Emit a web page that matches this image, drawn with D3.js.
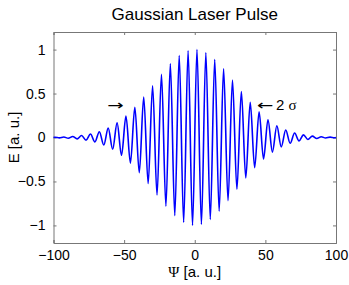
<!DOCTYPE html>
<html>
<head>
<meta charset="utf-8">
<script src="https://cdn.jsdelivr.net/npm/d3@7"></script>
<style>
  body { margin: 0; background: #fff; }
  svg { display: block; font-family: "Liberation Sans", Arial, sans-serif; }
</style>
</head>
<body>
<svg id="render" width="349" height="285"></svg>
<script>
// extrema of the pulse (psi, E)
let psiPts = [-100, -98.96, -95.819, -92.677, -89.535, -86.394, -83.252, -80.111, -76.969,
  -73.827, -70.686, -67.544, -64.403, -61.261, -58.119, -54.978, -51.836, -48.695, -45.553,
  -42.412, -39.27, -36.128, -32.987, -29.845, -26.704, -23.562, -20.42, -17.279, -14.137,
  -10.996, -7.854, -4.712, -1.571,
  1.571, 4.712, 7.854, 10.996, 14.137, 17.279, 20.42, 23.562, 26.704, 29.845, 32.987,
  36.128, 39.27, 42.412, 45.553, 48.695, 51.836, 54.978, 58.119, 61.261, 64.403, 67.544,
  70.686, 73.827, 76.969, 80.111, 83.252, 86.394, 89.535, 92.677, 95.819, 98.96, 100];
let ePts = [0, 0.003, -0.004, 0.006, -0.009, 0.012, -0.016, 0.022, -0.030,
  0.039, -0.051, 0.066, -0.085, 0.107, -0.134, 0.166, -0.202, 0.244, -0.291,
  0.343, -0.400, 0.460, -0.524, 0.589, -0.654, 0.719, -0.780, 0.837, -0.888,
  0.931, -0.964, 0.987, -0.999,
  0.999, -0.987, 0.964, -0.931, 0.888, -0.837, 0.780, -0.719, 0.654, -0.589, 0.524,
  -0.460, 0.400, -0.343, 0.291, -0.244, 0.202, -0.166, 0.134, -0.107, 0.085, -0.066,
  0.051, -0.039, 0.030, -0.022, 0.016, -0.012, 0.009, -0.006, 0.004, -0.003, 0];

let xTicks = [-100, -50, 0, 50, 100];
let yTicks = [-1, -0.5, 0, 0.5, 1];
let title = 'Gaussian Laser Pulse';

let box = {left: 53.5, right: 336, top: 32, bottom: 243};
let svg = d3.select('#render');

let x = d3.scaleLinear().domain([-100, 100]).range([box.left, box.right]);
let y = d3.scaleLinear().domain([-1.2, 1.2]).range([box.bottom, box.top]);

let axisCol = '#777';
let tickLen = 3;

// axes with inward ticks on all four sides
let gx = svg.append('g').attr('transform', `translate(0,${box.bottom})`)
  .call(d3.axisBottom(x).tickValues(xTicks).tickSize(-tickLen).tickPadding(7).tickFormat(d3.format('d')));
let gxt = svg.append('g').attr('transform', `translate(0,${box.top})`)
  .call(d3.axisTop(x).tickValues(xTicks).tickSize(-tickLen).tickFormat(''));
let gy = svg.append('g').attr('transform', `translate(${box.left},0)`)
  .call(d3.axisLeft(y).tickValues(yTicks).tickSize(-tickLen).tickPadding(8).tickFormat(d3.format('')));
let gyr = svg.append('g').attr('transform', `translate(${box.right},0)`)
  .call(d3.axisRight(y).tickValues(yTicks).tickSize(-tickLen).tickFormat(''));

[gx, gxt, gy, gyr].forEach(g => {
  g.select('.domain').attr('stroke', axisCol);
  g.selectAll('.tick line').attr('stroke', axisCol);
  g.selectAll('text').attr('fill', '#000').style('font-size', '14px')
    .style('font-family', '"Liberation Sans", Arial, sans-serif');
});

let pts = psiPts.map((p, i) => ({psi: p, e: ePts[i]}));
let line = d3.line().x(d => x(d.psi)).y(d => y(d.e)).curve(d3.curveMonotoneX);

svg.append('path')
  .datum(pts)
  .attr('d', line)
  .style('fill', 'none')
  .style('stroke', '#0000ff')
  .style('stroke-width', 1.6);

// title and labels
svg.append('text')
  .attr('x', (box.left + box.right) / 2).attr('y', 20)
  .attr('text-anchor', 'middle').style('font-size', '17px')
  .text(title);

let xl = svg.append('text')
  .attr('x', (box.left + box.right) / 2).attr('y', 277)
  .attr('text-anchor', 'middle').style('font-size', '15px');
xl.append('tspan').style('font-family', '"Liberation Serif", serif').text('Ψ');
xl.append('tspan').text(' [a. u.]');

svg.append('text')
  .attr('transform', `translate(19,${(box.top + box.bottom) / 2}) rotate(-90)`)
  .attr('text-anchor', 'middle').style('font-size', '15px')
  .text('E [a. u.]');

// 2 sigma markers (thin arrows, stretched sideways)
svg.append('text')
  .attr('transform', `translate(${x(-62)},${y(0.31)}) scale(1.4,1)`)
  .style('font-size', '14px').style('font-family', '"DejaVu Sans", sans-serif')
  .text('→');
svg.append('text')
  .attr('transform', `translate(${x(44)},${y(0.31)}) scale(1.4,1)`)
  .style('font-size', '14px').style('font-family', '"DejaVu Sans", sans-serif')
  .text('←');
let sig = svg.append('text')
  .attr('x', x(44) + 19).attr('y', y(0.31))
  .style('font-size', '15px');
sig.append('tspan').text('2 ');
sig.append('tspan').style('font-family', '"Liberation Serif", serif').text('σ');
</script>
</body>
</html>
